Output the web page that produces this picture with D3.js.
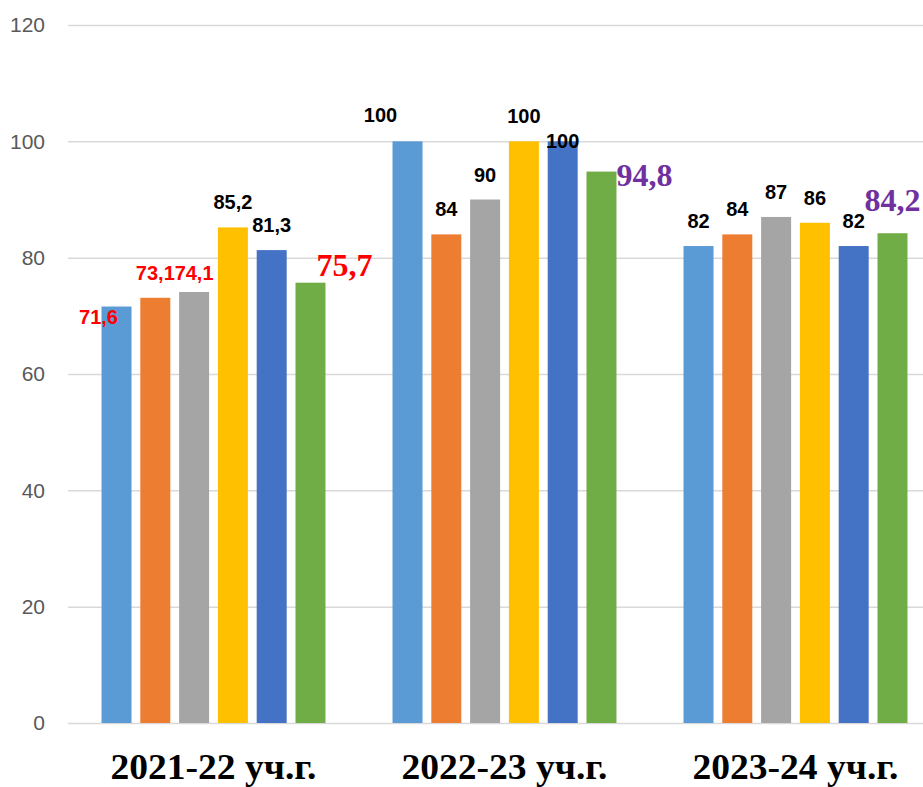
<!DOCTYPE html>
<html>
<head>
<meta charset="utf-8">
<script src="https://cdn.jsdelivr.net/npm/d3@7"></script>
<style>
  body { margin: 0; background: #fff; }
  svg { display: block; }
</style>
</head>
<body>
<svg id="chart" width="923" height="787"></svg>
<script>
const years = ['2021-22 уч.г.', '2022-23 уч.г.', '2023-24 уч.г.'];
const yTicks = [0, 20, 40, 60, 80, 100, 120];

// six series, one value per school year
const s1 = [71.6, 100, 82];
const s2 = [73.1, 84, 84];
const s3 = [74.1, 90, 87];
const s4 = [85.2, 100, 86];
const s5 = [81.3, 100, 82];
const s6 = [75.7, 94.8, 84.2];
const series = [s1, s2, s3, s4, s5, s6];

const colors = ['#5B9BD5', '#ED7D31', '#A5A5A5', '#FFC000', '#4472C4', '#70AD47'];

// hand-placed labels in the original (key: year-series)
const nudge = {
  '0-0': { dx: -18, by: 17 },
  '0-2': { dx: 0, by: -12 },
  '0-5': { dx: 34, by: -7 },
  '1-0': { dx: -27, by: -19 },
  '1-4': { dx: 0, by: 7 },
  '1-5': { dx: 43, by: 14 },
  '2-5': { dx: 0, by: -22 }
};

const svg = d3.select('#chart');
const W = 923;

const x0 = d3.scaleBand().domain(d3.range(years.length)).range([68, 941]).padding(0);
const x1 = d3.scaleBand().domain(d3.range(series.length)).range([0, x0.bandwidth()])
  .paddingInner(0.227).paddingOuter(0.864);
const y = d3.scaleLinear().domain([0, 120]).range([723, 25]);

// grid + tick labels
const axis = svg.append('g')
  .attr('transform', 'translate(68,0)')
  .call(d3.axisLeft(y).tickValues(yTicks).tickSize(-(W - 68)).tickPadding(23));
axis.select('.domain').remove();
axis.selectAll('.tick line').attr('stroke', '#D9D9D9').attr('stroke-width', 1.5);
axis.selectAll('.tick text')
  .attr('fill', '#595959')
  .style('font', '21px "Liberation Sans", Arial, sans-serif');

const cells = [];
years.forEach((yr, g) => series.forEach((vals, s) => cells.push({ g, s, v: vals[g] })));

svg.append('g').selectAll('rect')
  .data(cells)
  .join('rect')
  .attr('x', d => x0(d.g) + x1(d.s))
  .attr('y', d => y(d.v))
  .attr('width', x1.bandwidth())
  .attr('height', d => y(0) - y(d.v))
  .attr('fill', d => colors[d.s]);

const fmt = v => String(v).replace('.', ',');

function labelColor(d) {
  if (d.s === 5) return d.g === 0 ? '#FF0000' : '#7030A0';
  if (d.g === 0 && d.s < 3) return '#FF0000';
  return '#000';
}

svg.append('g').selectAll('text')
  .data(cells)
  .join('text')
  .attr('x', d => x0(d.g) + x1(d.s) + x1.bandwidth() / 2 + (nudge[d.g + '-' + d.s]?.dx ?? 0))
  .attr('y', d => y(d.v) + (nudge[d.g + '-' + d.s]?.by ?? -18))
  .attr('text-anchor', 'middle')
  .attr('fill', labelColor)
  .style('font-weight', 'bold')
  .style('font-family', d => d.s === 5 ? '"Liberation Serif", "Times New Roman", serif' : '"Liberation Sans", Arial, sans-serif')
  .style('font-size', d => d.s === 5 ? '32px' : '20px')
  .text(d => fmt(d.v));

// category labels
svg.append('g').selectAll('text')
  .data(years)
  .join('text')
  .attr('x', (d, i) => x0(i) + x0.bandwidth() / 2)
  .attr('y', 779)
  .attr('text-anchor', 'middle')
  .attr('textLength', 206)
  .attr('lengthAdjust', 'spacingAndGlyphs')
  .style('font', 'bold 36px "Liberation Serif", "Times New Roman", serif')
  .attr('fill', '#000')
  .text(d => d);
</script>
</body>
</html>
